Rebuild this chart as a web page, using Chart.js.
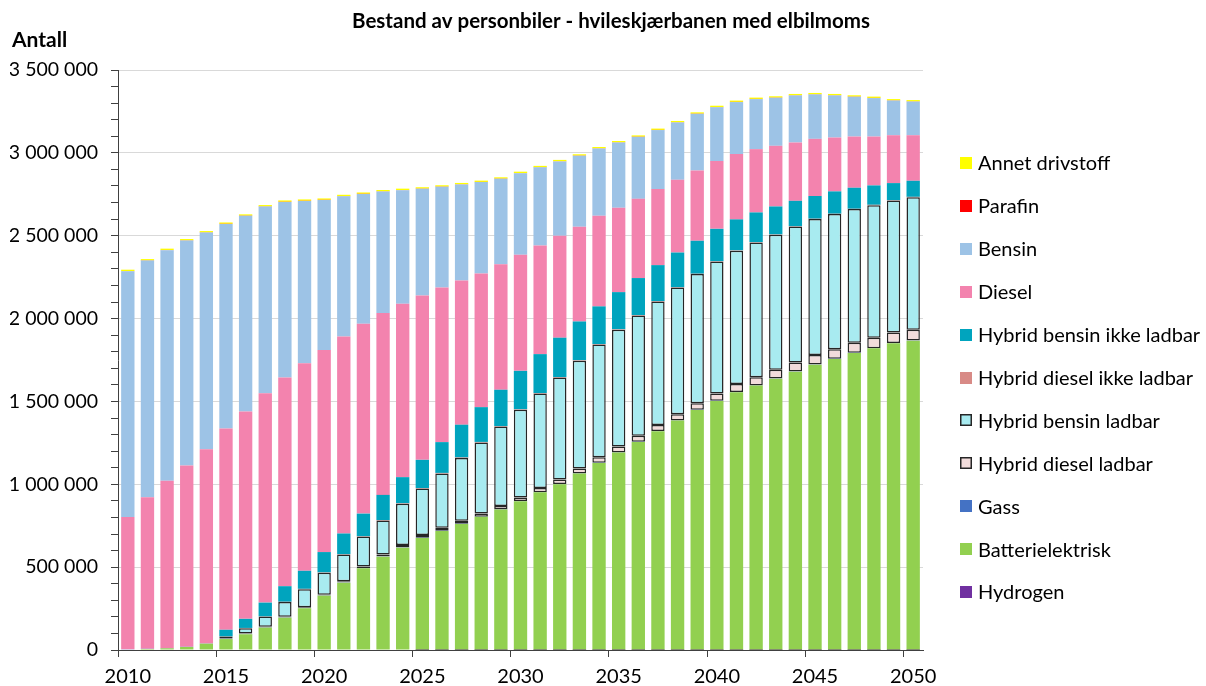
<!DOCTYPE html>
<html>
<head>
<meta charset="utf-8">
<script src="https://cdn.jsdelivr.net/npm/chart.js@4.4.1/dist/chart.umd.min.js"></script>
<style>
html,body{margin:0;padding:0;background:#fff;}
#wrap{position:relative;width:1206px;height:686px;}
</style>
</head>
<body>
<div id="wrap"><canvas id="c" width="1206" height="686"></canvas></div>
<script>
const years = [2010,2011,2012,2013,2014,2015,2016,2017,2018,2019,2020,2021,2022,2023,2024,2025,2026,2027,2028,2029,2030,2031,2032,2033,2034,2035,2036,2037,2038,2039,2040,2041,2042,2043,2044,2045,2046,2047,2048,2049,2050];

const hydrogen = [0,0,0,0,0,0,0,0,0,0,0,0,0,0,0,500,500,500,500,500,500,500,500,500,500,500,500,500,500,500,500,500,500,500,500,500,500,500,500,500,500];
const batterielektrisk = [3000,6000,10000,18000,38000,66000,95000,135000,195000,252000,328000,406000,493000,563000,617000,676000,718000,760000,803000,847000,897000,951000,1000000,1064000,1128000,1191000,1255000,1320000,1384000,1448000,1502000,1555000,1595000,1637000,1679000,1721000,1756000,1792000,1820000,1851000,1866000];
const gass = [1000,1000,1000,1000,1000,1000,1000,1000,1000,1000,1000,1000,1000,1000,1000,1000,1000,1000,1000,1000,1000,1000,1000,1000,1000,1000,1000,1000,1000,1000,1000,1000,1000,1000,1000,1000,1000,1000,1000,1000,1000];
const hybridDieselLadbar = [0,0,0,0,0,2000,3000,4000,5000,5000,5000,8000,10000,13000,16000,17000,18000,18000,19000,21000,22000,25000,28000,30000,33000,35000,36000,36000,37000,40000,44000,48000,50000,52000,55000,57000,58000,60000,63000,63000,65000];
const hybridBensinLadbar = [0,0,0,0,0,12000,33000,62000,88000,109000,132000,161000,181000,204000,248000,280000,328000,379000,429000,479000,529000,570000,615000,650000,681000,705000,726000,745000,765000,779000,797000,805000,813000,815000,820000,821000,815000,807000,800000,797000,800000];
const hybridDieselIkkeLadbar = [0,0,0,0,0,1000,1000,1000,2000,2000,2000,2000,2000,3000,3000,3000,3000,3000,3000,3000,3000,3000,3000,3000,3000,3000,3000,3000,2000,2000,2000,2000,2000,2000,2000,2000,2000,2000,2000,2000,2000];
const hybridBensinIkkeLadbar = [0,0,0,0,0,40000,55000,83000,94000,109000,123000,125000,136000,152000,158000,170000,186000,198000,210000,219000,232000,235000,237000,234000,227000,224000,223000,217000,209000,199000,195000,187000,179000,169000,153000,137000,135000,127000,117000,103000,97000];
const diesel = [798000,915000,1010000,1094000,1173000,1214000,1251000,1264000,1259000,1253000,1220000,1189000,1145000,1097000,1046000,992000,933000,870000,807000,758000,700000,656000,615000,571000,547000,509000,478000,459000,439000,424000,409000,394000,382000,366000,352000,345000,325000,309000,295000,289000,275000];
const bensin = [1484000,1428000,1392000,1358000,1307000,1235000,1181000,1126000,1060000,979000,905000,846000,784000,734000,686000,644000,608000,580000,551000,515000,493000,471000,449000,429000,406000,394000,374000,356000,346000,342000,325000,314000,302000,290000,284000,268000,254000,240000,232000,209000,203000];
const parafin = [1000,1000,1000,1000,1000,1000,1000,1000,1000,1000,1000,1000,1000,1000,1000,1000,1000,1000,1000,1000,1000,1000,1000,1000,1000,1000,1000,1000,1000,1000,1000,1000,1000,1000,1000,1000,1000,1000,1000,1000,1000];
const annetDrivstoff = [8000,8000,8000,8000,8000,8000,8000,8000,8000,8000,8000,8000,8000,8000,8000,8000,8000,8000,8000,8000,8000,8000,8000,8000,8000,8000,8000,8000,8000,8000,8000,8000,8000,8000,8000,8000,8000,8000,8000,8000,8000];

const yTickMajor = 500000;

const FONT = 'Lato';
const fmt = v => String(v).replace(/\B(?=(\d{3})+(?!\d))/g, ' ');

function ds(label, data, color, bordered){
  return {
    label, data,
    backgroundColor: color,
    borderColor: bordered ? '#262626' : color,
    borderWidth: bordered ? 1.5 : 0,
    borderSkipped: false,
    barPercentage: 0.68,
    categoryPercentage: 1.0
  };
}

const datasets = [
  ds('Hydrogen', hydrogen, '#7030A0'),
  ds('Batterielektrisk', batterielektrisk, '#92D050'),
  ds('Gass', gass, '#4472C4'),
  ds('Hybrid diesel ladbar', hybridDieselLadbar, '#F2DCDB', true),
  ds('Hybrid bensin ladbar', hybridBensinLadbar, '#A8EBF0', true),
  ds('Hybrid diesel ikke ladbar', hybridDieselIkkeLadbar, '#D88A86'),
  ds('Hybrid bensin ikke ladbar', hybridBensinIkkeLadbar, '#00A4BE'),
  ds('Diesel', diesel, '#F383AE'),
  ds('Bensin', bensin, '#9DC3E6'),
  ds('Parafin', parafin, '#FF0000'),
  ds('Annet drivstoff', annetDrivstoff, '#FFFF00')
];

const decorPlugin = {
  id: 'decor',
  afterDraw(chart){
    const ctx = chart.ctx;
    ctx.save();
    // title
    ctx.fillStyle = '#000';
    ctx.textBaseline = 'middle';
    ctx.textAlign = 'center';
    ctx.font = 'bold 20.5px ' + FONT;
    ctx.fillText('Bestand av personbiler - hvileskjærbanen med elbilmoms', 611, 21);
    // y axis title
    ctx.textAlign = 'left';
    ctx.font = 'bold 21px ' + FONT;
    ctx.fillText('Antall', 12, 40);
    // legend
    ctx.font = '20px ' + FONT;
    const items = chart.data.datasets.slice().reverse();
    items.forEach((d, i) => {
      const y = 163 + i * 42.9;
      ctx.fillStyle = d.backgroundColor;
      ctx.fillRect(960, Math.round(y) - 6, 12, 12);
      if (d.borderWidth) {
        ctx.strokeStyle = '#262626';
        ctx.lineWidth = 1.5;
        ctx.strokeRect(960.75, Math.round(y) - 5.25, 10.5, 10.5);
      }
      ctx.fillStyle = '#000';
      ctx.fillText(d.label, 978, y + 1);
    });
    ctx.restore();
  }
};

new Chart(document.getElementById('c'), {
  type: 'bar',
  data: { labels: years.map(String), datasets },
  options: {
    responsive: false,
    animation: false,
    devicePixelRatio: 1,
    layout: { padding: { left: 10, right: 283, top: 70, bottom: 0 } },
    plugins: { legend: { display: false }, title: { display: false }, tooltip: { enabled: false } },
    scales: {
      x: {
        stacked: true,
        offset: true,
        grid: {
          offset: true,
          drawOnChartArea: false,
          drawTicks: true,
          tickLength: 7,
          tickWidth: 1,
          tickColor: c => (c.index % 5 === 0) ? '#404040' : 'rgba(0,0,0,0)'
        },
        border: { color: '#404040', width: 1 },
        ticks: {
          autoSkip: false, maxRotation: 0, minRotation: 0, padding: 8,
          color: '#000',
          font: { family: FONT, size: 20 },
          callback: (v, i) => (years[i] % 5 === 0) ? String(years[i]) : ''
        },
        afterFit: s => { s.height = 36; }
      },
      y: {
        stacked: true,
        min: 0, max: 3500000,
        ticks: {
          stepSize: 100000, autoSkip: false, padding: 13,
          color: '#000',
          font: { family: FONT, size: 19.5 },
          callback: v => (v % yTickMajor === 0) ? fmt(v) : ''
        },
        grid: {
          color: c => (c.tick && c.tick.value % yTickMajor === 0 && c.tick.value > 0) ? '#d9d9d9' : 'rgba(0,0,0,0)',
          lineWidth: 1,
          tickColor: '#404040',
          tickLength: 7,
          drawTicks: true
        },
        border: { color: '#404040', width: 1 },
        afterFit: s => { s.width = 108; }
      }
    }
  },
  plugins: [decorPlugin]
});
</script>
</body>
</html>
